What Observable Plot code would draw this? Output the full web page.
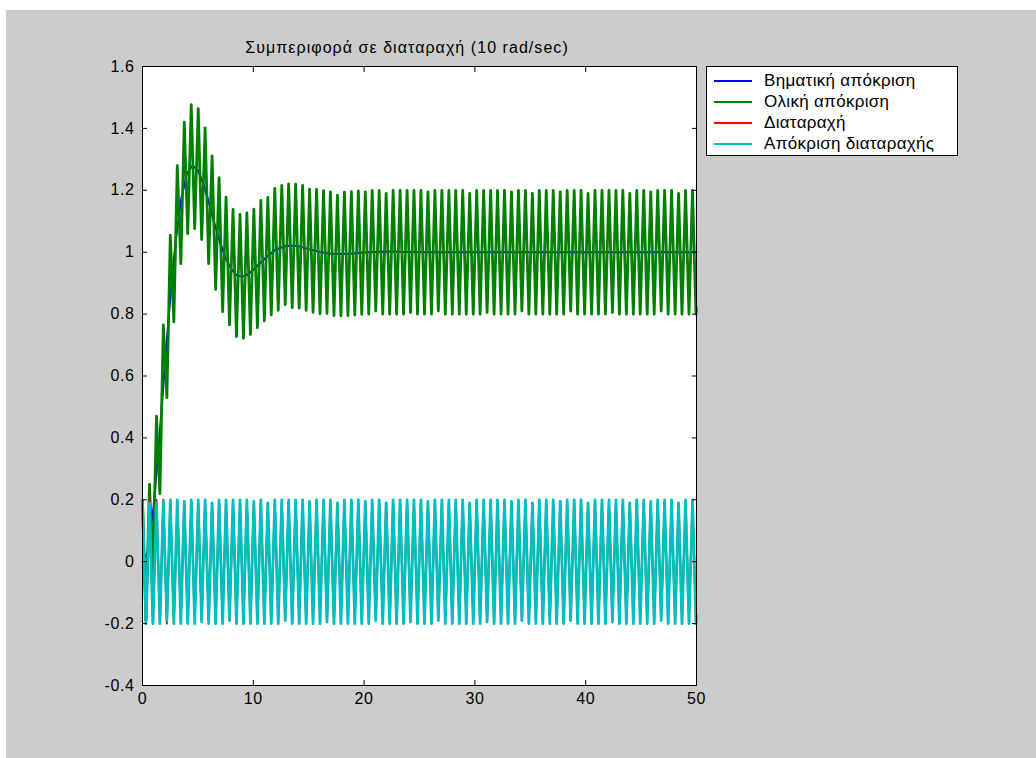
<!DOCTYPE html>
<html>
<head>
<meta charset="utf-8">
<script src="https://cdn.jsdelivr.net/npm/d3@7"></script>
<script src="https://cdn.jsdelivr.net/npm/@observablehq/plot@0.6"></script>
<style>
  html, body { margin: 0; padding: 0; background: #ffffff; }
  body { width: 1036px; height: 758px; position: relative; overflow: hidden; font-family: "Liberation Sans", Arial, sans-serif; }
  #chart { position: absolute; left: 6px; top: 10px; z-index: 1; }
  #title { position: absolute; left: 0; width: 814px; top: 38px; text-align: center; font-size: 16px; line-height: 20px; color: #000; white-space: nowrap; z-index: 2; letter-spacing: 1.05px; }
  #legend { position: absolute; left: 706px; top: 66px; width: 252px; height: 90px; background: #fff; border: 1px solid #000; box-sizing: border-box; z-index: 2; }
  .entry { position: absolute; left: 0; height: 20px; width: 250px; }
  .swatch { position: absolute; left: 7px; top: 9px; width: 38px; height: 2px; }
  .label { position: absolute; left: 57px; top: 0px; font-size: 17px; line-height: 20px; color: #000; white-space: nowrap; letter-spacing: 0.3px; }
  #chart svg text { letter-spacing: 0.6px; }
</style>
</head>
<body>
<div id="title"></div>
<div id="chart"></div>
<div id="legend"></div>
<script>
// ---- data ----
const titleText = "Συμπεριφορά σε διαταραχή (10 rad/sec)";
const legendLabels = ["Βηματική απόκριση", "Ολική απόκριση", "Διαταραχή", "Απόκριση διαταραχής"];
const seriesColors = ["#0000ff", "#008000", "#ff0000", "#00bfbf"];
const xTicks = [0, 10, 20, 30, 40, 50];
const yTicks = [-0.4, -0.2, 0, 0.2, 0.4, 0.6, 0.8, 1, 1.2, 1.4, 1.6];

// step response (blue)
const stepT = [0,0.5,1,1.5,2,2.5,3,3.5,4,4.5,5,5.5,6,6.5,7,7.5,8,8.5,9,9.5,10,11,12,13,14,15,16,17,18,19,20,21,22,24,26,30,35,40,45,50];
const stepV = [0,0.034,0.177,0.389,0.626,0.85,1.038,1.173,1.253,1.28,1.265,1.22,1.159,1.092,1.031,0.981,0.946,0.926,0.921,0.928,0.943,0.978,1.008,1.021,1.02,1.01,1.001,0.995,0.994,0.996,0.999,1.001,1.002,1.001,1,1,1,1,1,1];

// times of the oscillation peaks/troughs (10 rad/s)
const oscT = [0,0.31,0.63,0.94,1.26,1.57,1.88,2.20,2.51,2.83,
3.14,3.46,3.77,4.08,4.40,4.71,5.03,5.34,5.65,5.97,
6.28,6.60,6.91,7.23,7.54,7.85,8.17,8.48,8.80,9.11,
9.42,9.74,10.05,10.37,10.68,11.00,11.31,11.62,11.94,12.25,
12.57,12.88,13.19,13.51,13.82,14.14,14.45,14.77,15.08,15.39,
15.71,16.02,16.34,16.65,16.96,17.28,17.59,17.91,18.22,18.54,
18.85,19.16,19.48,19.79,20.11,20.42,20.73,21.05,21.36,21.68,
21.99,22.31,22.62,22.93,23.25,23.56,23.88,24.19,24.50,24.82,
25.13,25.45,25.76,26.08,26.39,26.70,27.02,27.33,27.65,27.96,
28.27,28.59,28.90,29.22,29.53,29.85,30.16,30.47,30.79,31.10,
31.42,31.73,32.04,32.36,32.67,32.99,33.30,33.62,33.93,34.24,
34.56,34.87,35.19,35.50,35.81,36.13,36.44,36.76,37.07,37.38,
37.70,38.01,38.33,38.64,38.96,39.27,39.58,39.90,40.21,40.53,
40.84,41.15,41.47,41.78,42.10,42.41,42.73,43.04,43.35,43.67,
43.98,44.30,44.61,44.92,45.24,45.55,45.87,46.18,46.50,46.81,
47.12,47.44,47.75,48.07,48.38,48.69,49.01,49.32,49.64,49.95,50];

// total response (green)
const totalV = [0.195,-0.19,0.25,-0.04,0.47,0.22,0.765,0.53,1.055,0.775,
1.28,0.963,1.42,1.06,1.477,1.076,1.464,1.041,1.402,0.963,
1.311,0.88,1.241,0.808,1.178,0.765,1.138,0.727,1.122,0.722,
1.127,0.734,1.139,0.756,1.167,0.778,1.177,0.797,1.206,0.812,
1.216,0.83,1.221,0.821,1.22,0.819,1.216,0.812,1.204,0.806,
1.203,0.801,1.199,0.802,1.195,0.795,1.184,0.794,1.194,0.795,
1.196,0.797,1.198,0.799,1.195,0.8,1.2,0.81,1.2,0.8,
1.19,0.8,1.2,0.8,1.2,0.8,1.2,0.805,1.2,0.8,
1.2,0.8,1.195,0.8,1.2,0.81,1.2,0.8,1.2,0.8,
1.2,0.8,1.2,0.8,1.19,0.8,1.2,0.8,1.2,0.805,
1.2,0.8,1.2,0.8,1.2,0.8,1.195,0.8,1.2,0.81,
1.2,0.8,1.19,0.8,1.2,0.8,1.2,0.8,1.2,0.8,
1.195,0.8,1.2,0.81,1.2,0.8,1.2,0.8,1.19,0.8,
1.2,0.8,1.2,0.8,1.2,0.805,1.2,0.8,1.2,0.8,
1.19,0.8,1.2,0.8,1.2,0.8,1.195,0.8,1.2,0.81,
1.2,0.8,1.2,0.8,1.19,0.8,1.2,0.8,1.2,0.8,0.82];

// disturbance (red)
const distV = [0.2,-0.2,0.2,-0.2,0.2,-0.2,0.2,-0.2,0.19,-0.19,
0.19,-0.19,0.19,-0.19,0.19,-0.19,0.19,-0.19,0.19,-0.19,
0.19,-0.19,0.19,-0.19,0.19,-0.19,0.19,-0.19,0.19,-0.19,
0.19,-0.19,0.19,-0.19,0.19,-0.19,0.19,-0.19,0.19,-0.19,
0.19,-0.19,0.19,-0.19,0.19,-0.19,0.19,-0.19,0.19,-0.19,
0.19,-0.19,0.19,-0.19,0.19,-0.19,0.19,-0.19,0.19,-0.19,
0.19,-0.19,0.19,-0.19,0.19,-0.19,0.19,-0.19,0.19,-0.19,
0.19,-0.19,0.19,-0.19,0.19,-0.19,0.19,-0.19,0.19,-0.19,
0.19,-0.19,0.19,-0.19,0.19,-0.19,0.19,-0.19,0.19,-0.19,
0.19,-0.19,0.19,-0.19,0.19,-0.19,0.19,-0.19,0.19,-0.19,
0.19,-0.19,0.19,-0.19,0.19,-0.19,0.19,-0.19,0.19,-0.19,
0.19,-0.19,0.19,-0.19,0.19,-0.19,0.19,-0.19,0.19,-0.19,
0.19,-0.19,0.19,-0.19,0.19,-0.19,0.19,-0.19,0.19,-0.19,
0.19,-0.19,0.19,-0.19,0.19,-0.19,0.19,-0.19,0.19,-0.19,
0.19,-0.19,0.19,-0.19,0.19,-0.19,0.19,-0.19,0.19,-0.19,
0.19,-0.19,0.19,-0.19,0.19,-0.19,0.19,-0.19,0.19,-0.19,-0.17];

// disturbance response (cyan)
const distRespV = [0.195,-0.2,0.19,-0.2,0.19,-0.2,0.195,-0.19,0.2,-0.2,
0.2,-0.2,0.195,-0.2,0.2,-0.2,0.2,-0.195,0.2,-0.2,
0.19,-0.2,0.2,-0.2,0.2,-0.19,0.2,-0.2,0.2,-0.2,
0.2,-0.2,0.195,-0.2,0.2,-0.2,0.19,-0.2,0.2,-0.2,
0.2,-0.19,0.2,-0.2,0.2,-0.2,0.2,-0.2,0.195,-0.2,
0.2,-0.2,0.2,-0.195,0.2,-0.2,0.19,-0.2,0.2,-0.2,
0.2,-0.2,0.2,-0.2,0.195,-0.2,0.2,-0.19,0.2,-0.2,
0.19,-0.2,0.2,-0.2,0.2,-0.2,0.2,-0.195,0.2,-0.2,
0.2,-0.2,0.195,-0.2,0.2,-0.19,0.2,-0.2,0.2,-0.2,
0.2,-0.2,0.2,-0.2,0.19,-0.2,0.2,-0.2,0.2,-0.195,
0.2,-0.2,0.2,-0.2,0.2,-0.2,0.195,-0.2,0.2,-0.19,
0.2,-0.2,0.19,-0.2,0.2,-0.2,0.2,-0.2,0.2,-0.2,
0.195,-0.2,0.2,-0.19,0.2,-0.2,0.2,-0.2,0.19,-0.2,
0.2,-0.2,0.2,-0.2,0.2,-0.195,0.2,-0.2,0.2,-0.2,
0.19,-0.2,0.2,-0.2,0.2,-0.2,0.195,-0.2,0.2,-0.19,
0.2,-0.2,0.2,-0.2,0.19,-0.2,0.2,-0.2,0.2,-0.2,-0.18];

// ---- build tables ----
const stepData = stepT.map((t, i) => ({t, v: stepV[i]}));
const oscData = oscT.map((t, i) => ({t, g: totalV[i], r: distV[i], c: distRespV[i]}));

const chart = Plot.plot({
  width: 1030,
  height: 748,
  marginLeft: 136,
  marginRight: 340,
  marginTop: 56,
  marginBottom: 73,
  x: {domain: [0, 50], label: null},
  y: {domain: [-0.4, 1.6], label: null},
  style: {background: "#cccccc", fontFamily: "'Liberation Sans', Arial, sans-serif", fontSize: "16px", color: "#000", overflow: "visible"},
  marks: [
    Plot.frame({fill: "#ffffff", stroke: null}),
    Plot.line(stepData, {x: "t", y: "v", stroke: seriesColors[0], strokeWidth: 2}),
    Plot.line(oscData, {x: "t", y: "g", stroke: seriesColors[1], strokeWidth: 2.8}),
    Plot.line(oscData, {x: "t", y: "r", stroke: seriesColors[2], strokeWidth: 2}),
    Plot.line(oscData, {x: "t", y: "c", stroke: seriesColors[3], strokeWidth: 2.8}),
    Plot.axisX({anchor: "bottom", ticks: xTicks, tickSize: -5, tickPadding: 12, tickFormat: d => String(d), label: null, fontSize: 16}),
    Plot.axisX({anchor: "top", ticks: xTicks, tickSize: -5, tickFormat: () => "", label: null}),
    Plot.axisY({anchor: "left", ticks: yTicks, tickSize: -5, tickPadding: 13, tickFormat: d => String(d), label: null, fontSize: 16}),
    Plot.axisY({anchor: "right", ticks: yTicks, tickSize: -5, tickFormat: () => "", label: null}),
    Plot.frame({stroke: "#000000", strokeWidth: 1})
  ]
});
document.getElementById("chart").appendChild(chart);

document.getElementById("title").textContent = titleText;

const legend = document.getElementById("legend");
const rowTops = [4, 25, 46, 67];
legendLabels.forEach((lab, i) => {
  const row = document.createElement("div");
  row.className = "entry";
  row.style.top = rowTops[i] + "px";
  const sw = document.createElement("div");
  sw.className = "swatch";
  sw.style.background = seriesColors[i];
  const tx = document.createElement("div");
  tx.className = "label";
  tx.textContent = lab;
  row.appendChild(sw);
  row.appendChild(tx);
  legend.appendChild(row);
});
</script>
</body>
</html>
